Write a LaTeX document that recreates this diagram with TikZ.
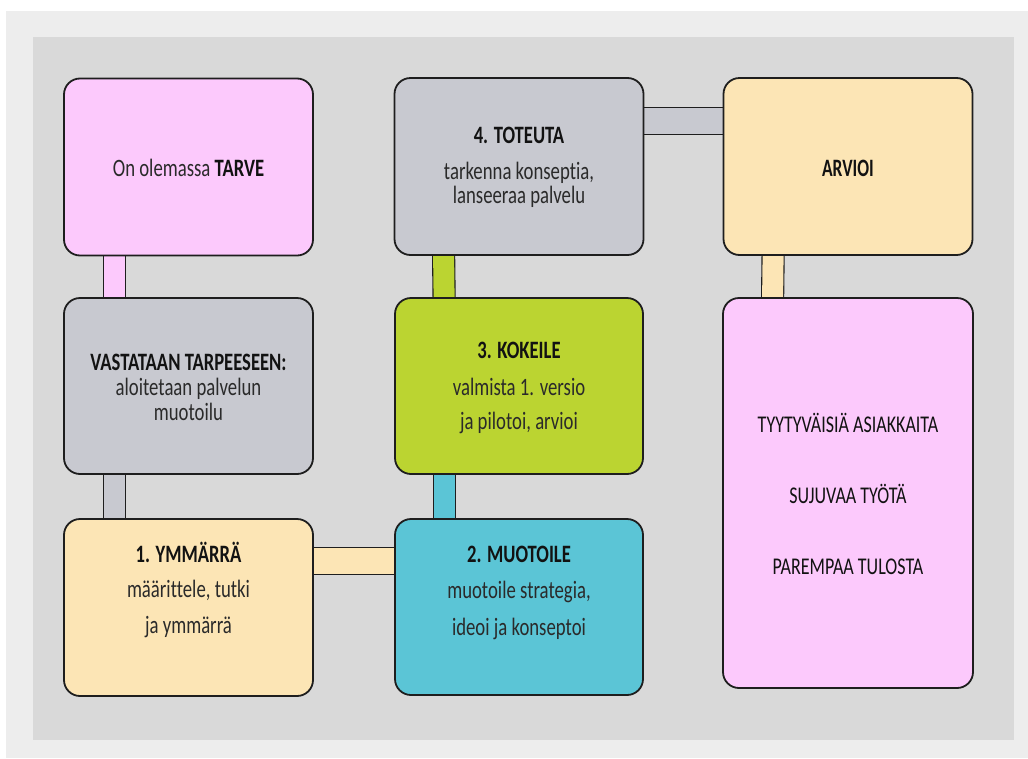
\documentclass[tikz,border=0pt]{standalone}
\usepackage{fontspec}
\setmainfont[Ligatures=NoCommon]{Carlito}
\newfontfamily\bodyf[FakeStretch=0.75, Ligatures=NoCommon]{Carlito}
\newfontfamily\headf[FakeStretch=0.745, Ligatures=NoCommon]{Carlito}
\newfontfamily\arvf[FakeStretch=0.70, Ligatures=NoCommon]{Carlito}
\newfontfamily\bigf[FakeStretch=0.75, Ligatures=NoCommon]{Carlito}
\usetikzlibrary{backgrounds}
\definecolor{pinkc}{HTML}{FCC9FC}
\definecolor{greyc}{HTML}{C8C9D0}
\definecolor{beigec}{HTML}{FCE5B5}
\definecolor{greenc}{HTML}{BBD431}
\definecolor{cyanc}{HTML}{5BC5D6}
\definecolor{bgdark}{HTML}{D9D9D9}
\definecolor{bglight}{HTML}{EDEDED}
\definecolor{edgec}{HTML}{1E1E1E}
\definecolor{txtc}{HTML}{2A2A2A}
\definecolor{headc}{HTML}{121212}
\newcommand{\hd}[1]{{\headf\bfseries\fontsize{25pt}{24pt}\selectfont\color{headc}#1}}
\tikzset{
  box/.style={draw=edgec, line width=1.8pt, rounded corners=16pt,
    minimum width=249pt, minimum height=177pt, inner sep=0pt},
  txt/.style={align=center, text=txtc, inner sep=0pt,
    font=\bodyf\fontsize{25pt}{24pt}\selectfont},
  bigtxt/.style={align=center, text=headc, inner sep=0pt,
    font=\bigf\fontsize{24pt}{24pt}\selectfont},
  vbar/.style={draw=edgec, line width=1.1pt, double=#1, double distance=21pt},
  hbar/.style={draw=edgec, line width=1.1pt, double=#1, double distance=26pt}
}
\begin{document}
\begin{tikzpicture}[x=1pt,y=-1pt]
\useasboundingbox (0,0) rectangle (1028,758);

\node[box, fill=pinkc, label={[txt, yshift=-1pt]center:On olemassa \hd{TARVE}}] (tarve) at (188.5,167) {};
\node[box, fill=greyc, label={[txt, yshift=-1pt]center:\hd{4. TOTEUTA}\\[12pt]tarkenna konseptia,\\lanseeraa palvelu}] (tot) at (519,166.5) {};
\node[box, fill=beigec, label={[txt, yshift=-1.5pt]center:{\arvf\bfseries\fontsize{25pt}{24pt}\selectfont\color{headc}ARVIOI}}] (arv) at (848,166.5) {};
\node[box, fill=greyc, minimum height=176pt, label={[txt, yshift=-1.5pt]center:\hd{VASTATAAN TARPEESEEN:}\\[1pt]aloitetaan palvelun\\[1pt]muotoilu}] (vast) at (188.5,386) {};
\node[box, fill=greenc, minimum width=248pt, minimum height=176pt, label={[txt, yshift=-1.5pt]center:\hd{3. KOKEILE}\\[13pt]valmista 1. versio\\[10pt]ja pilotoi, arvioi}] (kok) at (519,386) {};
\node[box, fill=beigec, label={[txt, yshift=18pt]center:\hd{1. YMMÄRRÄ}\\[11pt]määrittele, tutki\\[12pt]ja ymmärrä}] (ymm) at (188.5,607.5) {};
\node[box, fill=cyanc, minimum width=248pt, minimum height=176pt, label={[txt, yshift=14.5pt]center:\hd{2. MUOTOILE}\\[12pt]muotoile strategia,\\[13pt]ideoi ja konseptoi}] (muo) at (519,607) {};
\node[box, fill=pinkc, minimum width=250pt, minimum height=390pt, label={[bigtxt, yshift=-1pt]center:TYYTYVÄISIÄ ASIAKKAITA\\[47pt]SUJUVAA TYÖTÄ\\[47pt]PAREMPAA TULOSTA}] (big) at (848,493) {};

\begin{scope}[on background layer]
\fill[white] (0,0) rectangle (1028,758);
\fill[bglight] (6,11) rectangle (1028,758);
\fill[bgdark] (33,37) rectangle (1014,740);
\draw[vbar=pinkc] ([xshift=51.5pt]tarve.south west) -- ([xshift=51.5pt]vast.north west);
\draw[vbar=greyc] ([xshift=51.5pt]vast.south west) -- ([xshift=51.5pt]ymm.north west);
\draw[hbar=beigec] ([yshift=-43pt]ymm.north east) -- ([yshift=-43pt]ymm.north east -| muo.west);
\draw[vbar=cyanc] ([xshift=50pt]muo.north west) -- ([xshift=50pt]kok.south west);
\draw[vbar=greenc] ([xshift=50pt]kok.north west) -- ([xshift=50pt]tot.south west);
\draw[hbar=greyc] ([yshift=-44pt]tot.north east) -- ([yshift=-44pt]tot.north east -| arv.west);
\draw[vbar=beigec] ([xshift=50.5pt]arv.south west) -- ([xshift=50.5pt]big.north west);
\end{scope}
\end{tikzpicture}
\end{document}
